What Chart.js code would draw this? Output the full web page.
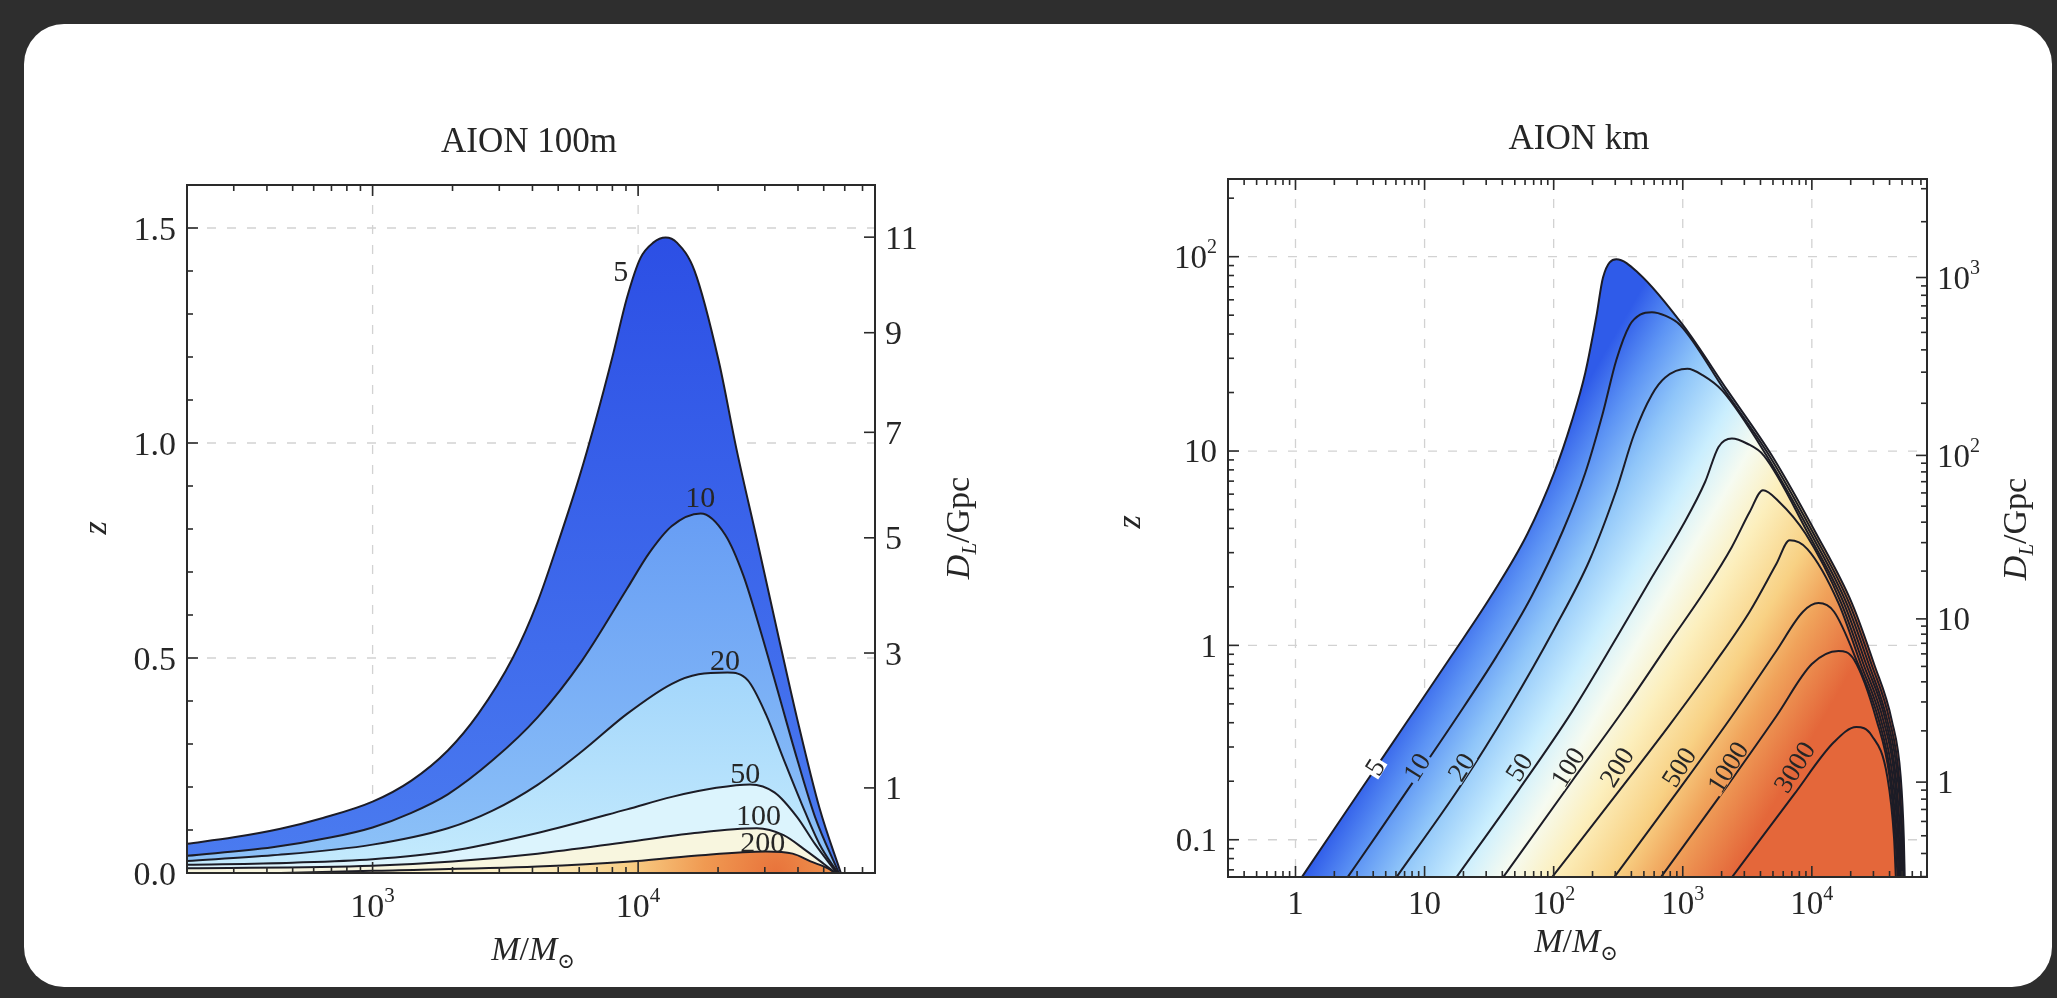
<!DOCTYPE html>
<html>
<head>
<meta charset="utf-8">
<title>AION SNR contours</title>
<script src="https://cdn.jsdelivr.net/npm/chart.js@4.4.1/dist/chart.umd.min.js"></script>
<style>
  html, body { margin: 0; padding: 0; }
  body { width: 2057px; height: 998px; position: relative; overflow: hidden; background: #2e2e2e; }
  #card { position: absolute; left: 24px; top: 24px; right: 5px; bottom: 11px; background: #fff; border-radius: 40px; }
  canvas { position: absolute; top: 0; }
</style>
</head>
<body>
<div id="card"></div>
<canvas id="chart100m" width="1030" height="998" style="left:0"></canvas>
<canvas id="chartKm" width="1027" height="998" style="left:1030px"></canvas>
<script>
const FONT = '"Liberation Serif", "DejaVu Serif", serif';
const INK = '#262626';

// ---------- AION 100m : SNR contours, M/Msun vs z ----------
const levels100m = [5, 10, 20, 50, 100, 200];
const m100m_5 = [200, 300, 450, 650, 1000, 1400, 1920, 2500, 3370, 4180, 5070, 6000, 6900, 8000, 9100, 10200, 11400, 12700, 14000, 16300, 20100, 23500, 28000, 33300, 39700, 48200, 58000];
const z100m_5 = [0.068, 0.083, 0.103, 0.128, 0.166, 0.215, 0.285, 0.370, 0.500, 0.630, 0.780, 0.920, 1.050, 1.200, 1.340, 1.430, 1.466, 1.478, 1.466, 1.401, 1.192, 0.984, 0.776, 0.567, 0.359, 0.151, 0.0];
const m100m_10 = [200, 420, 700, 1000, 1400, 1920, 2830, 4180, 6150, 9080, 11000, 13400, 17200, 21300, 24900, 29100, 34000, 39700, 46400, 57000];
const z100m_10 = [0.040, 0.060, 0.083, 0.106, 0.140, 0.183, 0.262, 0.362, 0.494, 0.661, 0.744, 0.807, 0.836, 0.786, 0.692, 0.557, 0.411, 0.265, 0.130, 0.0];
const m100m_20 = [200, 420, 1000, 1920, 2830, 4180, 6150, 9080, 13400, 16900, 21700, 25900, 30300, 35300, 41300, 48200, 56500];
const z100m_20 = [0.028, 0.041, 0.066, 0.104, 0.145, 0.205, 0.283, 0.370, 0.440, 0.462, 0.466, 0.448, 0.369, 0.265, 0.161, 0.067, 0.0];
const m100m_50 = [200, 500, 1000, 1920, 4180, 9080, 13400, 19700, 26400, 32700, 39700, 46400, 56000];
const z100m_50 = [0.019, 0.024, 0.032, 0.050, 0.093, 0.148, 0.177, 0.198, 0.206, 0.187, 0.130, 0.067, 0.0];
const m100m_100 = [200, 1000, 2000, 4180, 9080, 16300, 28000, 35300, 42900, 50100, 55500];
const z100m_100 = [0.011, 0.017, 0.027, 0.045, 0.072, 0.093, 0.104, 0.088, 0.052, 0.021, 0.0];
const m100m_200 = [450, 1000, 4180, 9080, 16300, 30300, 38200, 44600, 52100, 55000];
const z100m_200 = [0.0, 0.005, 0.015, 0.026, 0.040, 0.050, 0.045, 0.027, 0.010, 0.0];

const labelText100m = ['5', '10', '20', '50', '100', '200'];
const labelM100m = [8600, 17130, 21230, 25300, 28400, 29500];
const labelZ100m = [1.40, 0.875, 0.496, 0.232, 0.135, 0.073];

const xTicks100m = [1000, 10000];
const xTickLabels100m = [['10', '3'], ['10', '4']];
const yTicks100m = [0, 0.5, 1.0, 1.5];
const yTickLabels100m = [['0.0', ''], ['0.5', ''], ['1.0', ''], ['1.5', '']];
const dlTicks100m = [1, 3, 5, 7, 9, 11];

// ---------- AION km ----------
const levelsKm = [5, 10, 20, 50, 100, 200, 500, 1000, 3000];
const mKm_5 = [1.117, 1.915, 3.757, 7.371, 16.28, 33.23, 62.66, 100.8, 138.4, 175.6, 214.1, 241.1, 305.8, 454.6, 1004, 2218, 4899, 10820, 20410, 30330, 41650, 48810, 51590, 52410];
const zKm_5 = [0.064, 0.109, 0.211, 0.408, 0.889, 1.82, 3.75, 7.71, 14.3, 25.2, 49.2, 78.2, 97.0, 82.2, 44.4, 20.5, 9.48, 3.75, 1.65, 0.802, 0.410, 0.210, 0.102, 0.064];
const mKm_10 = [2.528, 4.232, 8.637, 17.63, 35.97, 67.82, 118.1, 175.6, 241.1, 305.8, 387.8, 472.9, 576.6, 731.1, 957.5, 2115, 4672, 10320, 19470, 28920, 40040, 47300, 50380, 51590];
const zKm_10 = [0.064, 0.105, 0.210, 0.423, 0.875, 1.80, 3.90, 7.71, 15.8, 29.4, 44.4, 50.5, 51.8, 49.7, 44.4, 20.5, 9.48, 3.75, 1.65, 0.802, 0.410, 0.210, 0.102, 0.064];
const mKm_20 = [6.045, 19.08, 45.62, 100.8, 190.0, 305.8, 420.0, 576.6, 731.1, 1087, 1434, 2016, 4456, 9843, 18560, 27580, 38480, 46180, 49590, 50380];
const zKm_20 = [0.064, 0.190, 0.479, 1.21, 2.75, 6.28, 12.2, 19.5, 23.9, 26.5, 24.5, 20.5, 9.48, 3.75, 1.65, 0.802, 0.410, 0.210, 0.102, 0.064];
const mKm_50 = [17.63, 53.48, 138.4, 305.8, 576.6, 1004, 1492, 1893, 2401, 3169, 4248, 9387, 17700, 26300, 37270, 44740, 48420, 49590];
const zKm_50 = [0.064, 0.180, 0.455, 1.09, 2.24, 4.16, 6.95, 10.5, 11.6, 10.9, 9.48, 3.75, 1.65, 0.802, 0.410, 0.210, 0.102, 0.064];
const mKm_100 = [40.52, 138.4, 358.3, 791.6, 1492, 2401, 3297, 4181, 5518, 8950, 16880, 25080, 35840, 43690, 47300, 48810];
const zKm_100 = [0.064, 0.200, 0.479, 1.04, 1.92, 3.21, 4.85, 6.28, 5.52, 3.75, 1.65, 0.802, 0.410, 0.210, 0.102, 0.064];
const mKm_200 = [96.9, 305.8, 791.6, 1749, 3297, 5304, 6729, 9239, 16090, 23920, 34440, 42320, 46550, 48050];
const zKm_200 = [0.064, 0.171, 0.390, 0.802, 1.49, 2.62, 3.47, 3.13, 1.65, 0.802, 0.410, 0.210, 0.102, 0.064];
const mKm_500 = [293.9, 927.6, 2401, 5304, 8536, 11260, 14860, 22800, 33110, 41010, 45460, 47300];
const zKm_500 = [0.064, 0.180, 0.432, 0.936, 1.49, 1.65, 1.49, 0.802, 0.410, 0.210, 0.102, 0.064];
const mKm_1000 = [675.4, 2218, 5304, 10000, 16090, 21240, 31810, 40040, 44390, 46180];
const zKm_1000 = [0.064, 0.190, 0.432, 0.802, 0.936, 0.843, 0.410, 0.210, 0.102, 0.064];
const mKm_3000 = [2401, 7283, 14860, 22100, 29150, 38480, 43340, 44740];
const zKm_3000 = [0.064, 0.171, 0.318, 0.380, 0.343, 0.210, 0.102, 0.064];

const labelTextKm = ['5', '10', '20', '50', '100', '200', '500', '1000', '3000'];
const labelMKm = [4.1, 8.64, 19.1, 53.5, 128, 306, 928, 2218, 7283];
const labelZKm = [0.237, 0.237, 0.237, 0.237, 0.237, 0.237, 0.237, 0.237, 0.237];

const xTicksKm = [1, 10, 100, 1000, 10000];
const xTickLabelsKm = [['1', ''], ['10', ''], ['10', '2'], ['10', '3'], ['10', '4']];
const yTicksKm = [0.1, 1, 10, 100];
const yTickLabelsKm = [['0.1', ''], ['1', ''], ['10', ''], ['10', '2']];
const dlTicksKm = [1, 10, 100, 1000];
const dlTickLabelsKm = [['1', ''], ['10', ''], ['10', '2'], ['10', '3']];

// colour of the SNR field at each contour level (km panel)
const kmLevelColors = ['#2f5be9', '#5c93f4', '#8fc5f9', '#caeefe', '#f6fbf1', '#fcefbd', '#f8d184', '#f0a35b', '#e4673a'];

// ---------- luminosity distance (flat LCDM) for the D_L axis ----------
const H0 = 67.7, OMEGA_M = 0.31, OMEGA_R = 9e-5, C_KMS = 299792.458;
function lumDistGpc(z) {
  const n = 200, a = Math.log1p(z), h = a / n;
  let s = 0;
  for (let i = 0; i <= n; i++) {
    const opz = Math.exp(i * h);
    const e = Math.sqrt(OMEGA_R * opz ** 4 + OMEGA_M * opz ** 3 + (1 - OMEGA_M - OMEGA_R));
    const w = (i === 0 || i === n) ? 1 : (i % 2 ? 4 : 2);
    s += w * opz / e;
  }
  return (1 + z) * (C_KMS / H0) * s * h / 3 / 1000;
}
function zForDist(d) {
  let lo = -4, hi = 3.5;
  for (let k = 0; k < 60; k++) {
    const mid = (lo + hi) / 2;
    if (lumDistGpc(10 ** mid) < d) lo = mid; else hi = mid;
  }
  return 10 ** ((lo + hi) / 2);
}

function logMarks(min, max) {
  const out = [];
  for (let e = Math.floor(Math.log10(min)); e <= Math.ceil(Math.log10(max)); e++) {
    for (let k = 1; k <= 9; k++) {
      const v = k * 10 ** e;
      if (v > min * 1.0001 && v < max * 0.9999) out.push({ v, major: k === 1 });
    }
  }
  return out;
}

// ---------- text helpers ----------
function drawParts(ctx, parts, x, y, align, angle) {
  ctx.save();
  ctx.translate(x, y);
  if (angle) ctx.rotate(angle);
  let total = 0;
  parts.forEach((p) => { ctx.font = p.font; p.w = ctx.measureText(p.text).width; total += p.w; });
  let cx = align === 'center' ? -total / 2 : (align === 'right' ? -total : 0);
  ctx.textAlign = 'left';
  ctx.textBaseline = 'alphabetic';
  ctx.fillStyle = INK;
  parts.forEach((p) => { ctx.font = p.font; ctx.fillText(p.text, cx, p.dy); cx += p.w; });
  ctx.restore();
}
function tickParts(label, size) {
  const parts = [{ text: label[0], font: `${size}px ${FONT}`, dy: 0.34 * size }];
  if (label[1]) parts.push({ text: label[1], font: `${Math.round(size * 0.62)}px ${FONT}`, dy: -0.1 * size });
  return parts;
}
function massTitle(size) {
  return [
    { text: 'M', font: `italic ${size}px ${FONT}`, dy: 0.34 * size },
    { text: '/', font: `${size}px ${FONT}`, dy: 0.34 * size },
    { text: 'M', font: `italic ${size}px ${FONT}`, dy: 0.34 * size },
    { text: '\u2299', font: `${Math.round(size * 0.62)}px ${FONT}`, dy: 0.58 * size },
  ];
}
function distTitle(size) {
  return [
    { text: 'D', font: `italic ${size}px ${FONT}`, dy: 0.34 * size },
    { text: 'L', font: `italic ${Math.round(size * 0.62)}px ${FONT}`, dy: 0.55 * size },
    { text: '/Gpc', font: `${size}px ${FONT}`, dy: 0.34 * size },
  ];
}

// ---------- fills ----------
function vGrad(context, zTop, cTop, zBot, cBot) {
  const chart = context.chart;
  if (!chart.chartArea) return cBot;
  const y = chart.scales.y;
  const g = chart.ctx.createLinearGradient(0, y.getPixelForValue(zTop), 0, y.getPixelForValue(zBot));
  g.addColorStop(0, cTop);
  g.addColorStop(1, cBot);
  return g;
}
function orangeGlow(context) {
  const chart = context.chart;
  if (!chart.chartArea) return '#fbe3a0';
  const cx = chart.scales.x.getPixelForValue(33000);
  const cy = chart.scales.y.getPixelForValue(0);
  const g = chart.ctx.createRadialGradient(cx, cy, 0, cx, cy, 240);
  g.addColorStop(0, '#e8733b');
  g.addColorStop(0.3, '#f09a52');
  g.addColorStop(0.62, '#f8cf86');
  g.addColorStop(1, '#fcf0c6');
  return g;
}
const fill100m = [
  (c) => vGrad(c, 1.48, '#2c4fe5', 0, '#4b7cf0'),
  (c) => vGrad(c, 0.84, '#679df4', 0, '#8ec3f8'),
  (c) => vGrad(c, 0.47, '#a3d6fb', 0, '#c5ebfd'),
  () => '#dcf4fd',
  () => '#f8f6df',
  orangeGlow,
];

// diagonal colour ramp across the km panel, anchored on where each contour meets the bottom
const RAMP_ANGLE = 30 * Math.PI / 180;
function kmGradient(chart) {
  const xs = chart.scales.x, area = chart.chartArea;
  const nx = Math.cos(RAMP_ANGLE), ny = Math.sin(RAMP_ANGLE);
  const base = contoursKm.map((c) => xs.getPixelForValue(c.mass[0]));
  const x0 = base[0], y0 = area.bottom;
  const L = (base[base.length - 1] - x0) * nx;
  const g = chart.ctx.createLinearGradient(x0, y0, x0 + L * nx, y0 + L * ny);
  base.forEach((bx, i) => g.addColorStop(Math.min(1, (bx - x0) * nx / L), kmLevelColors[i]));
  return g;
}

const contours100m = [
  [m100m_5, z100m_5], [m100m_10, z100m_10], [m100m_20, z100m_20],
  [m100m_50, z100m_50], [m100m_100, z100m_100], [m100m_200, z100m_200],
].map(([mass, z], i) => ({ level: levels100m[i], mass, z }));
const contoursKm = [
  [mKm_5, zKm_5], [mKm_10, zKm_10], [mKm_20, zKm_20], [mKm_50, zKm_50], [mKm_100, zKm_100],
  [mKm_200, zKm_200], [mKm_500, zKm_500], [mKm_1000, zKm_1000], [mKm_3000, zKm_3000],
].map(([mass, z], i) => ({ level: levelsKm[i], mass, z }));

function contourDataset(c, i, n, fill, bg) {
  return {
    label: 'SNR ' + c.level,
    data: c.mass.map((m, k) => ({ x: m, y: c.z[k] })),
    borderColor: '#1c1c26',
    borderWidth: 2,
    pointRadius: 0,
    cubicInterpolationMode: 'monotone',
    fill,
    backgroundColor: bg,
    order: n - i,
  };
}

// ---------- frame, ticks, labels ----------
function makeFramePlugin(cfg) {
  return {
    id: 'frame' + cfg.name,
    beforeDatasetsDraw(chart) {
      const { ctx, chartArea: a, scales: { x, y } } = chart;
      ctx.save();
      ctx.strokeStyle = '#d2d2d2';
      ctx.lineWidth = 1.3;
      ctx.setLineDash([9, 11]);
      cfg.gridX.forEach((v) => {
        const px = x.getPixelForValue(v);
        ctx.beginPath(); ctx.moveTo(px, a.top); ctx.lineTo(px, a.bottom); ctx.stroke();
      });
      cfg.gridY.forEach((v) => {
        const py = y.getPixelForValue(v);
        ctx.beginPath(); ctx.moveTo(a.left, py); ctx.lineTo(a.right, py); ctx.stroke();
      });
      ctx.restore();
    },
    afterDatasetsDraw(chart) {
      const { ctx, chartArea: a, scales: { x, y } } = chart;
      // contour labels (km panel: the line is broken behind the label)
      cfg.labels.text.forEach((t, i) => {
        const px = x.getPixelForValue(cfg.labels.m[i]);
        const py = y.getPixelForValue(cfg.labels.z[i]);
        const size = cfg.labels.size;
        if (cfg.labels.patch) {
          ctx.save();
          ctx.font = `${size}px ${FONT}`;
          const w = ctx.measureText(t).width;
          const c = Math.cos(cfg.labels.angle), s = Math.sin(cfg.labels.angle);
          const hw = w / 2 + 2, hh = size * 0.36;
          ctx.beginPath();
          [[-hw, -hh], [hw, -hh], [hw, hh], [-hw, hh]].forEach(([u, v], k) => {
            const X = px + u * c - v * s, Y = py + u * s + v * c;
            if (k === 0) ctx.moveTo(X, Y); else ctx.lineTo(X, Y);
          });
          ctx.closePath();
          ctx.fillStyle = i === 0 ? '#ffffff' : cfg.labels.patch(chart);
          ctx.fill();
          ctx.restore();
        }
        drawParts(ctx, [{ text: t, font: `${size}px ${FONT}`, dy: 0.34 * size }], px, py, 'center', cfg.labels.angle);
      });

      ctx.save();
      ctx.strokeStyle = '#2a2a2a';
      ctx.lineWidth = 1.6;
      cfg.xMarks.forEach((t) => {
        const px = x.getPixelForValue(t.v), len = t.major ? 11 : 6;
        ctx.beginPath();
        ctx.moveTo(px, a.bottom); ctx.lineTo(px, a.bottom - len);
        ctx.moveTo(px, a.top); ctx.lineTo(px, a.top + len);
        ctx.stroke();
      });
      cfg.yMarks.forEach((t) => {
        const py = y.getPixelForValue(t.v), len = t.major ? 11 : 6;
        ctx.beginPath(); ctx.moveTo(a.left, py); ctx.lineTo(a.left + len, py); ctx.stroke();
      });
      cfg.rMarks.forEach((t) => {
        const py = y.getPixelForValue(t.z), len = t.major ? 11 : 6;
        ctx.beginPath(); ctx.moveTo(a.right, py); ctx.lineTo(a.right - len, py); ctx.stroke();
      });
      ctx.lineWidth = 2;
      ctx.strokeRect(a.left, a.top, a.right - a.left, a.bottom - a.top);
      ctx.restore();

      const fs = cfg.tickSize;
      cfg.xTicks.forEach((v, i) => {
        drawParts(ctx, tickParts(cfg.xTickLabels[i], fs), x.getPixelForValue(v), a.bottom + cfg.xLabelGap, 'center');
      });
      cfg.yTicks.forEach((v, i) => {
        drawParts(ctx, tickParts(cfg.yTickLabels[i], fs), a.left - 11, y.getPixelForValue(v), 'right');
      });
      cfg.rTicks.forEach((t) => {
        drawParts(ctx, tickParts(t.label, fs), a.right + 10, y.getPixelForValue(t.z), 'left');
      });

      drawParts(ctx, [{ text: cfg.title, font: `${cfg.titleSize}px ${FONT}`, dy: 0.34 * cfg.titleSize }], cfg.titlePos[0], cfg.titlePos[1], 'center');
      drawParts(ctx, massTitle(34), cfg.xTitlePos[0], cfg.xTitlePos[1], 'center');
      drawParts(ctx, [{ text: 'z', font: `italic 34px ${FONT}`, dy: 0.2 * 34 }], cfg.yTitlePos[0], cfg.yTitlePos[1], 'center', -Math.PI / 2);
      drawParts(ctx, distTitle(34), cfg.rTitlePos[0], cfg.rTitlePos[1], 'center', -Math.PI / 2);
    },
  };
}

function baseOptions(padding, xMin, xMax, yType, yMin, yMax) {
  return {
    responsive: false,
    animation: false,
    events: [],
    layout: { padding },
    plugins: { legend: { display: false }, tooltip: { enabled: false }, title: { display: false } },
    scales: {
      x: { type: 'logarithmic', min: xMin, max: xMax, display: false },
      y: { type: yType, min: yMin, max: yMax, display: false },
    },
  };
}

// ----- left panel -----
const yMarks100m = [];
for (let k = 1; k <= 15; k++) yMarks100m.push({ v: k / 10, major: k % 5 === 0 });

new Chart(document.getElementById('chart100m'), {
  type: 'line',
  data: {
    datasets: contours100m.map((c, i) => contourDataset(c, i, contours100m.length, 'start', fill100m[i])),
  },
  options: baseOptions({ left: 187, top: 185, right: 155, bottom: 125 }, 200, 78000, 'linear', 0, 1.6),
  plugins: [makeFramePlugin({
    name: '100m',
    gridX: xTicks100m,
    gridY: [0.5, 1.0, 1.5],
    xMarks: logMarks(200, 78000),
    yMarks: yMarks100m,
    rMarks: dlTicks100m.map((d) => ({ z: zForDist(d), major: true })),
    xTicks: xTicks100m, xTickLabels: xTickLabels100m, xLabelGap: 32,
    yTicks: yTicks100m, yTickLabels: yTickLabels100m,
    rTicks: dlTicks100m.map((d) => ({ z: zForDist(d), label: [String(d), ''] })),
    tickSize: 34,
    labels: { text: labelText100m, m: labelM100m, z: labelZ100m, size: 30, angle: 0 },
    title: 'AION 100m', titleSize: 35, titlePos: [529, 140],
    xTitlePos: [533, 948], yTitlePos: [99, 528], rTitlePos: [957, 528],
  })],
});

// ----- right panel -----
const dlMarksKm = [];
[0.1, 1, 10, 100, 1000].forEach((dec) => {
  for (let k = 1; k <= 9; k++) {
    const d = k * dec;
    const z = zForDist(d);
    if (z > 0.0643 && z < 251) dlMarksKm.push({ z, major: k === 1 });
  }
});

new Chart(document.getElementById('chartKm'), {
  type: 'line',
  data: {
    datasets: contoursKm.map((c, i) => contourDataset(c, i, contoursKm.length,
      i === 0 ? 'start' : false,
      i === 0 ? (ctx) => (ctx.chart.chartArea ? kmGradient(ctx.chart) : '#8fc5f9') : 'transparent')),
  },
  options: baseOptions({ left: 198, top: 179, right: 130, bottom: 121 }, 0.318, 78000, 'logarithmic', 0.0643, 251),
  plugins: [makeFramePlugin({
    name: 'km',
    gridX: xTicksKm,
    gridY: yTicksKm,
    xMarks: logMarks(0.318, 78000),
    yMarks: logMarks(0.0643, 251),
    rMarks: dlMarksKm,
    xTicks: xTicksKm, xTickLabels: xTickLabelsKm, xLabelGap: 26,
    yTicks: yTicksKm, yTickLabels: yTickLabelsKm,
    rTicks: dlTicksKm.map((d, i) => ({ z: zForDist(d), label: dlTickLabelsKm[i] })),
    tickSize: 33,
    labels: { text: labelTextKm, m: labelMKm, z: labelZKm, size: 27, angle: -58 * Math.PI / 180, patch: kmGradient },
    title: 'AION km', titleSize: 35, titlePos: [549, 137],
    xTitlePos: [546, 940], yTitlePos: [103, 522], rTitlePos: [984, 529],
  })],
});
</script>
</body>
</html>
